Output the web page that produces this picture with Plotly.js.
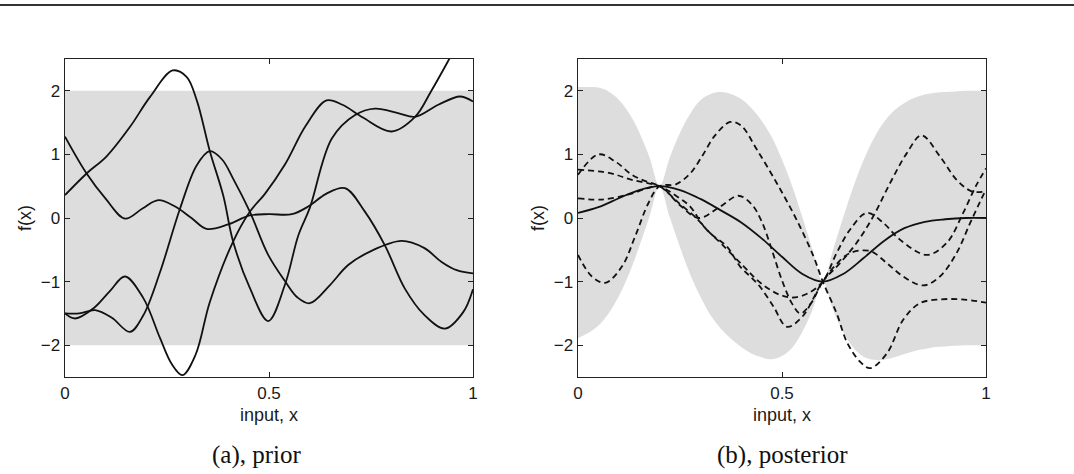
<!DOCTYPE html>
<html>
<head>
<meta charset="utf-8">
<script src="https://cdn.plot.ly/plotly-3.0.1.min.js"></script>
<style>
  html, body { margin: 0; padding: 0; background: #ffffff; }
  #chart { width: 1074px; height: 474px; }
</style>
</head>
<body>
<div id="chart"></div>
<script>
// ---------- panel (a): prior ----------
const priorBandX = [0, 1];
const priorBandUpper = [2, 2];
const priorBandLower = [-2, -2];

const priorX_A = [0, 0.053, 0.10, 0.147, 0.19, 0.229, 0.27, 0.31, 0.347, 0.40, 0.453, 0.50, 0.556, 0.596, 0.64, 0.686, 0.735, 0.784, 0.833, 0.88, 0.931, 0.976, 1.0];
const priorY_A = [1.28, 0.70, 0.30, -0.01, 0.15, 0.28, 0.18, 0.0, -0.17, -0.10, 0.04, 0.06, 0.06, 0.18, 0.38, 0.47, 0.10, -0.43, -1.11, -1.52, -1.74, -1.48, -1.12];

const priorX_B = [0, 0.053, 0.102, 0.159, 0.208, 0.264, 0.298, 0.323, 0.355, 0.388, 0.412, 0.453, 0.498, 0.539, 0.572, 0.60, 0.654, 0.711, 0.76, 0.816, 0.858, 0.915, 0.968, 1.0];
const priorY_B = [0.36, 0.70, 0.97, 1.43, 1.90, 2.32, 2.22, 1.85, 1.05, 0.35, -0.37, -1.10, -1.62, -1.05, -0.27, 0.16, 1.25, 1.62, 1.72, 1.65, 1.59, 1.78, 1.91, 1.83];

const priorX_C = [0, 0.035, 0.074, 0.115, 0.159, 0.192, 0.233, 0.282, 0.323, 0.355, 0.385, 0.412, 0.453, 0.498, 0.54, 0.57, 0.60, 0.65, 0.694, 0.75, 0.825, 0.88, 0.923, 0.96, 1.0];
const priorY_C = [-1.50, -1.50, -1.45, -1.57, -1.79, -1.53, -0.85, 0.15, 0.83, 1.05, 0.92, 0.62, 0.10, -0.58, -1.0, -1.25, -1.34, -1.05, -0.74, -0.52, -0.36, -0.47, -0.69, -0.82, -0.87];

const priorX_D = [0, 0.025, 0.07, 0.11, 0.147, 0.192, 0.233, 0.262, 0.288, 0.32, 0.355, 0.412, 0.453, 0.49, 0.539, 0.59, 0.641, 0.68, 0.73, 0.80, 0.858, 0.897, 0.94, 1.0];
const priorY_D = [-1.50, -1.58, -1.42, -1.15, -0.92, -1.26, -1.89, -2.30, -2.47, -2.15, -1.32, -0.37, 0.10, 0.38, 0.84, 1.45, 1.85, 1.78, 1.58, 1.36, 1.59, 1.99, 2.48, 3.2];

// ---------- panel (b): posterior ----------
const postBandX = [0, 0.025, 0.05, 0.075, 0.1, 0.125, 0.15, 0.175, 0.2, 0.225, 0.25, 0.275, 0.3, 0.325, 0.35, 0.375, 0.4, 0.425, 0.45, 0.475, 0.5, 0.525, 0.55, 0.575, 0.6, 0.625, 0.65, 0.675, 0.7, 0.725, 0.75, 0.775, 0.8, 0.825, 0.85, 0.875, 0.9, 0.925, 0.95, 0.975, 1.0];
const postBandUpper = [2.06, 2.06, 2.05, 1.99, 1.86, 1.65, 1.35, 0.96, 0.5, 0.95, 1.34, 1.64, 1.85, 1.95, 1.98, 1.95, 1.87, 1.73, 1.53, 1.27, 0.92, 0.50, 0.01, -0.50, -1.0, -0.50, 0.01, 0.49, 0.91, 1.25, 1.51, 1.69, 1.81, 1.89, 1.94, 1.97, 1.98, 1.99, 2.0, 2.0, 2.0];
const postBandLower = [-1.89, -1.81, -1.69, -1.50, -1.23, -0.88, -0.45, 0.02, 0.5, 0.01, -0.46, -0.89, -1.24, -1.53, -1.74, -1.90, -2.03, -2.13, -2.19, -2.22, -2.17, -2.04, -1.79, -1.44, -1.0, -1.44, -1.79, -2.04, -2.18, -2.23, -2.23, -2.19, -2.14, -2.09, -2.06, -2.03, -2.02, -2.01, -2.0, -2.0, -2.0];

const postMeanX = [0, 0.05, 0.1, 0.15, 0.2, 0.25, 0.3, 0.35, 0.4, 0.45, 0.5, 0.55, 0.6, 0.65, 0.7, 0.75, 0.8, 0.85, 0.9, 0.95, 1.0];
const postMeanY = [0.08, 0.17, 0.31, 0.44, 0.5, 0.44, 0.30, 0.12, -0.07, -0.32, -0.61, -0.88, -1.0, -0.88, -0.63, -0.36, -0.16, -0.06, -0.02, 0.0, 0.0];

const postX_1 = [0, 0.034, 0.067, 0.108, 0.14, 0.173, 0.2, 0.24, 0.275, 0.304, 0.336, 0.373, 0.40, 0.438, 0.487, 0.536, 0.577, 0.6, 0.634, 0.659, 0.69, 0.716, 0.757, 0.797, 0.838, 0.887, 0.94, 1.0];
const postY_1 = [-0.58, -0.92, -1.02, -0.76, -0.29, 0.24, 0.5, 0.53, 0.70, 0.97, 1.30, 1.51, 1.45, 1.08, 0.55, -0.03, -0.60, -1.0, -1.5, -1.95, -2.25, -2.36, -2.13, -1.60, -1.34, -1.28, -1.28, -1.33];

const postX_2 = [0, 0.059, 0.124, 0.171, 0.2, 0.25, 0.296, 0.349, 0.393, 0.425, 0.45, 0.475, 0.50, 0.525, 0.545, 0.57, 0.6, 0.63, 0.667, 0.716, 0.757, 0.797, 0.846, 0.887, 0.928, 0.961, 0.985, 1.0];
const postY_2 = [0.31, 0.29, 0.37, 0.47, 0.5, 0.2, 0.0, 0.18, 0.35, 0.22, -0.05, -0.5, -0.98, -1.35, -1.5, -1.35, -1.0, -0.75, -0.55, -0.52, -0.71, -0.92, -1.06, -0.92, -0.55, -0.08, 0.25, 0.45];

const postX_3 = [0, 0.075, 0.132, 0.2, 0.24, 0.275, 0.308, 0.349, 0.406, 0.438, 0.471, 0.50, 0.528, 0.565, 0.6, 0.634, 0.667, 0.708, 0.749, 0.789, 0.855, 0.904, 0.944, 0.975, 1.0];
const postY_3 = [0.76, 0.71, 0.60, 0.5, 0.35, 0.18, -0.13, -0.39, -0.76, -0.97, -1.13, -1.22, -1.25, -1.18, -1.0, -0.55, -0.18, 0.08, -0.08, -0.34, -0.58, -0.39, 0.08, 0.5, 0.78];

const postX_4 = [0, 0.05, 0.091, 0.132, 0.165, 0.2, 0.25, 0.29, 0.324, 0.365, 0.397, 0.422, 0.446, 0.479, 0.512, 0.55, 0.6, 0.642, 0.683, 0.724, 0.765, 0.806, 0.842, 0.887, 0.928, 0.965, 1.0];
const postY_4 = [0.68, 1.0, 0.89, 0.68, 0.58, 0.5, 0.22, 0.0, -0.24, -0.45, -0.76, -0.92, -1.08, -1.39, -1.71, -1.55, -1.0, -0.71, -0.39, 0.03, 0.55, 1.02, 1.30, 0.97, 0.60, 0.42, 0.42];

// ---------- text ----------
const xTickVals = [0, 0.5, 1];
const xTickText = ['0', '0.5', '1'];
const yTickVals = [-2, -1, 0, 1, 2];
const yTickText = ['\u22122', '\u22121', '0', '1', '2'];
const xTitle = 'input, x';
const yTitle = 'f(x)';
const captions = ['(a), prior', '(b), posterior'];

// ---------- styling ----------
const BAND = '#dddddd';
const INK = '#111111';
const LW = 1.8;
const sans = 'Liberation Sans, Arial, sans-serif';
const serif = 'Liberation Serif, Times New Roman, serif';

function line(x, y, xa, ya, dash) {
  return { x: x, y: y, xaxis: xa, yaxis: ya, type: 'scatter', mode: 'lines',
    line: { color: INK, width: LW, shape: 'spline', smoothing: 1, dash: dash || 'solid' },
    hoverinfo: 'skip', showlegend: false };
}
function bandLower(x, y, xa, ya, shape) {
  return { x: x, y: y, xaxis: xa, yaxis: ya, type: 'scatter', mode: 'lines',
    line: { width: 0, color: BAND, shape: shape, smoothing: 1 }, hoverinfo: 'skip', showlegend: false };
}
function bandUpper(x, y, xa, ya, shape) {
  return { x: x, y: y, xaxis: xa, yaxis: ya, type: 'scatter', mode: 'lines', fill: 'tonexty',
    fillcolor: BAND, line: { width: 0, color: BAND, shape: shape, smoothing: 1 },
    hoverinfo: 'skip', showlegend: false };
}

const DASH = '6px,4px';
const traces = [
  bandLower(priorBandX, priorBandLower, 'x', 'y', 'linear'),
  bandUpper(priorBandX, priorBandUpper, 'x', 'y', 'linear'),
  line(priorX_A, priorY_A, 'x', 'y'),
  line(priorX_B, priorY_B, 'x', 'y'),
  line(priorX_C, priorY_C, 'x', 'y'),
  line(priorX_D, priorY_D, 'x', 'y'),
  bandLower(postBandX, postBandLower, 'x2', 'y2', 'spline'),
  bandUpper(postBandX, postBandUpper, 'x2', 'y2', 'spline'),
  line(postX_1, postY_1, 'x2', 'y2', DASH),
  line(postX_2, postY_2, 'x2', 'y2', DASH),
  line(postX_3, postY_3, 'x2', 'y2', DASH),
  line(postX_4, postY_4, 'x2', 'y2', DASH),
  line(postMeanX, postMeanY, 'x2', 'y2')
];

function xAxis(domain, anchor) {
  return {
    domain: domain, anchor: anchor, range: [0, 1],
    tickmode: 'array', tickvals: xTickVals, ticktext: xTickText,
    ticks: 'inside', ticklen: 5, tickwidth: 1, tickcolor: '#222',
    showline: true, mirror: 'ticks', linecolor: '#222', linewidth: 1.4,
    showgrid: false, zeroline: false,
    tickfont: { family: sans, size: 17, color: '#1a1a1a' },
    title: { text: xTitle, font: { family: sans, size: 18, color: '#1a1a1a' }, standoff: 6 }
  };
}
function yAxis(domain, anchor) {
  return {
    domain: domain, anchor: anchor, range: [-2.5, 2.5],
    tickmode: 'array', tickvals: yTickVals, ticktext: yTickText,
    ticks: 'inside', ticklen: 5, tickwidth: 1, tickcolor: '#222',
    showline: true, mirror: 'ticks', linecolor: '#222', linewidth: 1.4,
    showgrid: false, zeroline: false,
    tickfont: { family: sans, size: 17, color: '#1a1a1a' },
    title: { text: yTitle, font: { family: sans, size: 18, color: '#1a1a1a' }, standoff: 4 }
  };
}

const W = 1074, H = 474;
const yDom = [(H - 377) / H, (H - 59) / H];
const layout = {
  width: W, height: H,
  margin: { l: 0, r: 0, t: 0, b: 0 },
  paper_bgcolor: '#ffffff', plot_bgcolor: '#ffffff',
  showlegend: false,
  xaxis: xAxis([65 / W, 473 / W], 'y'),
  yaxis: yAxis(yDom, 'x'),
  xaxis2: xAxis([578 / W, 986 / W], 'y2'),
  yaxis2: yAxis(yDom, 'x2'),
  shapes: [
    { type: 'line', xref: 'paper', yref: 'paper', x0: 0, x1: 1,
      y0: (H - 5) / H, y1: (H - 5) / H, line: { color: '#333333', width: 2.2 } }
  ],
  annotations: [
    { text: captions[0], xref: 'paper', yref: 'paper', x: 257 / W, y: (H - 455) / H,
      xanchor: 'center', yanchor: 'middle', showarrow: false,
      font: { family: serif, size: 25, color: '#111' } },
    { text: captions[1], xref: 'paper', yref: 'paper', x: 782 / W, y: (H - 455) / H,
      xanchor: 'center', yanchor: 'middle', showarrow: false,
      font: { family: serif, size: 25, color: '#111' } }
  ]
};

Plotly.newPlot('chart', traces, layout, { staticPlot: true, displayModeBar: false });
</script>
</body>
</html>
